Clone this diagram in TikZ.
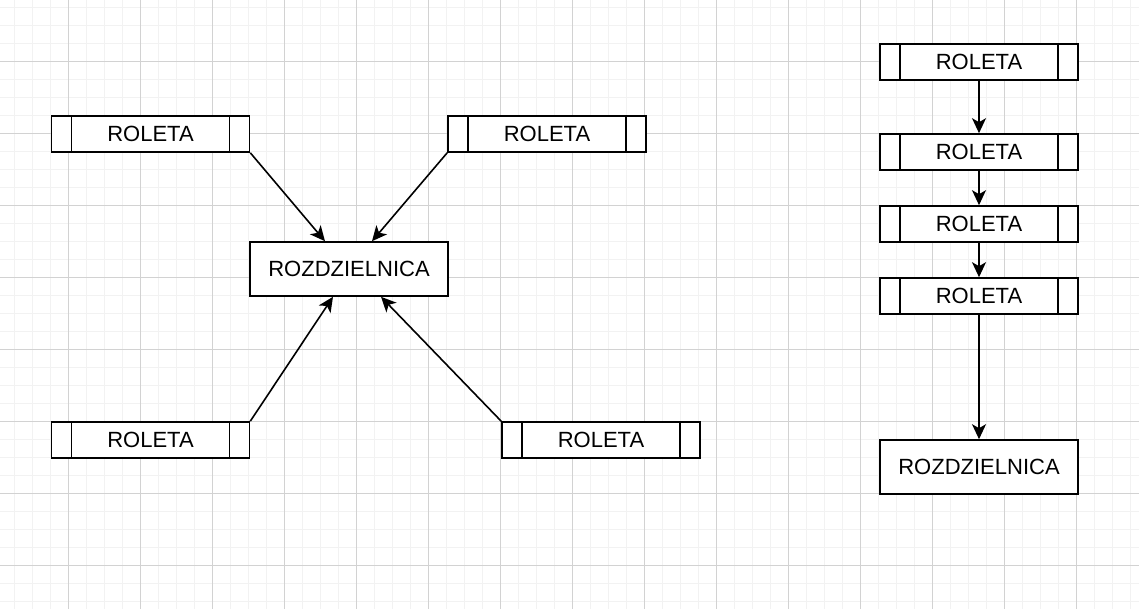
\documentclass[tikz,border=0pt]{standalone}
\usepackage{fontspec}
\setmainfont{Liberation Sans}
\usetikzlibrary{arrows.meta,calc}
\definecolor{gridminor}{RGB}{242,242,242}
\definecolor{gridmajor}{RGB}{210,210,210}
\tikzset{
  procbox/.style={draw=black, line width=1.6pt, fill=white, minimum width=198pt, minimum height=36pt, inner sep=0pt,
    font=\fontsize{22}{25}\selectfont,
    path picture={
      \draw[line width=1.6pt] ([xshift=20pt]path picture bounding box.north west) -- ([xshift=20pt]path picture bounding box.south west);
      \draw[line width=1.6pt] ([xshift=-20pt]path picture bounding box.north east) -- ([xshift=-20pt]path picture bounding box.south east);
    }},
  mainbox/.style={draw=black, line width=1.6pt, fill=white, minimum width=198pt, minimum height=54pt, inner sep=0pt,
    font=\fontsize{22}{25}\selectfont},
  conn/.style={line width=1.6pt, -{Stealth[length=15pt, width=14pt, inset=4pt]}}
}
\begin{document}
\begin{tikzpicture}[x=1pt,y=-1pt]
\useasboundingbox (0,0) rectangle (1139,609);
\fill[white] (0,0) rectangle (1139,609);
% minor grid
\foreach \k in {0,...,64} {\draw[gridminor, line width=1pt] ({-4+18*\k},0) -- ({-4+18*\k},609);}
\foreach \k in {0,...,34} {\draw[gridminor, line width=1pt] (0,{7.5+18*\k}) -- (1139,{7.5+18*\k});}
% major grid
\foreach \k in {1,...,16} {\draw[gridmajor, line width=1pt] ({-4+72*\k},0) -- ({-4+72*\k},609);}
\foreach \k in {1,...,9} {\draw[gridmajor, line width=1pt] (0,{-10.5+72*\k}) -- (1139,{-10.5+72*\k});}

% left diagram
\node[procbox] (r1) at (150.5,134) {ROLETA};
\node[procbox] (r2) at (547,134) {ROLETA};
\node[mainbox] (roz) at (349,269) {ROZDZIELNICA};
\node[procbox] (r3) at (150.5,440) {ROLETA};
\node[procbox] (r4) at (601,440) {ROLETA};

\draw[conn] (r1.south east) -- ([xshift=-24pt]roz.north);
\draw[conn] (r2.south west) -- ([xshift=23pt]roz.north);
\draw[conn] (r3.north east) -- ([xshift=-16pt]roz.south);
\draw[conn] (r4.north west) -- ([xshift=32pt]roz.south);

% right diagram
\node[procbox] (c1) at (979,62) {ROLETA};
\node[procbox] (c2) at (979,152) {ROLETA};
\node[procbox] (c3) at (979,224) {ROLETA};
\node[procbox] (c4) at (979,296) {ROLETA};
\node[mainbox] (roz2) at (979,467) {ROZDZIELNICA};

\draw[conn] (c1) -- (c2);
\draw[conn] (c2) -- (c3);
\draw[conn] (c3) -- (c4);
\draw[conn] (c4) -- (roz2);
\end{tikzpicture}
\end{document}
